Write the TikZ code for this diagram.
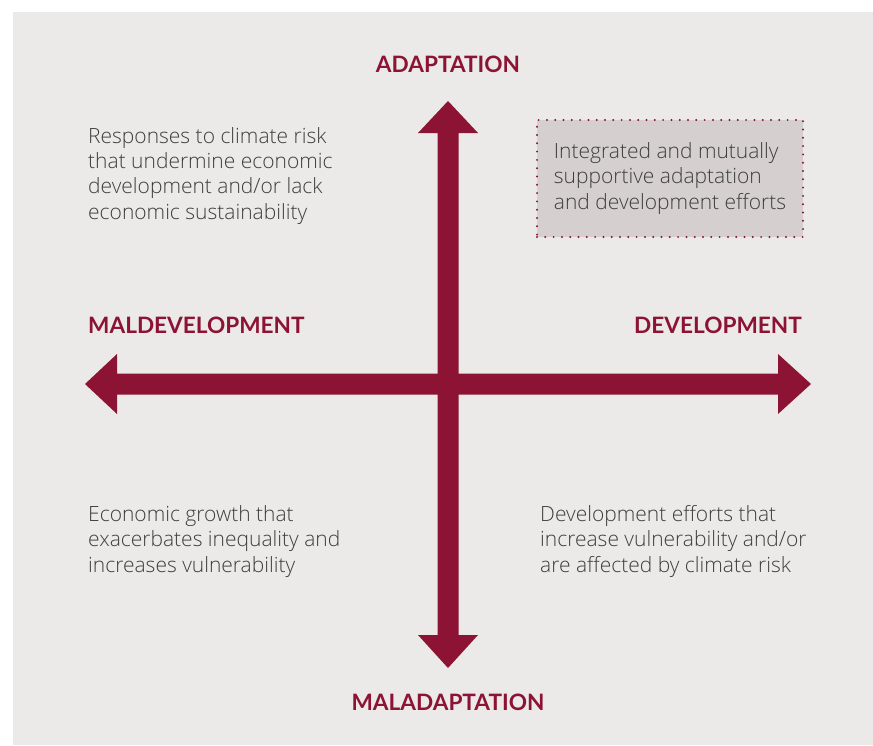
\documentclass[tikz,border=0pt]{standalone}
\usepackage{fontspec}
\IfFontExistsTF{Open Sans Light}{\newfontfamily\bodyfont{Open Sans Light}}{\newfontfamily\bodyfont{Open Sans}}
\newfontfamily\labelfont{Lato}[BoldFont=* Bold]
\definecolor{crimson}{RGB}{140,19,51}
\definecolor{bgcol}{RGB}{235,234,232}
\definecolor{boxfill}{RGB}{213,208,207}
\definecolor{bodytext}{RGB}{62,62,62}
\tikzset{
  axislabel/.style={inner sep=0pt, text=crimson, font=\labelfont\bfseries\fontsize{22.6}{27}\selectfont},
  bodytxt/.style={inner sep=0pt, align=left, text=bodytext, font=\bodyfont\fontsize{21}{25.3}\selectfont},
  axisarrow/.style={fill=crimson},
  dottedbox/.style={draw=crimson, fill=boxfill, line width=2.2pt, line cap=round,
    dash pattern=on 0pt off 8.3pt, minimum width=266pt, minimum height=117pt}
}
\begin{document}
\begin{tikzpicture}[x=1pt,y=-1pt]
\useasboundingbox (0,0) rectangle (873,745);
\fill[bgcol] (13,12) rectangle (873,745);
% arrow end points
\coordinate (top) at (448,101);
\coordinate (bottom) at (448,668);
\coordinate (left) at (85,384);
\coordinate (right) at (811,384);
% vertical arrow
\fill[axisarrow] (top) -- ++(30,32) -- ++(-19.5,0) -- ++(0,502) -- ++(19.5,0) -- (bottom)
  -- ++(-30,-33) -- ++(19.5,0) -- ++(0,-502) -- ++(-19.5,0) -- cycle;
% horizontal arrow
\fill[axisarrow] (left) -- ++(32,-30) -- ++(0,19.5) -- ++(661,0) -- ++(0,-19.5) -- (right)
  -- ++(-33,30) -- ++(0,-19.5) -- ++(-661,0) -- ++(0,19.5) -- cycle;
% axis labels
\node[axislabel, anchor=base] (adapt) at (448,72) {ADAPTATION};
\node[axislabel, anchor=base] (maladapt) at (448,710) {MALADAPTATION};
\node[axislabel, anchor=base west] (maldev) at (88,333) {MALDEVELOPMENT};
\node[axislabel, anchor=base east] (dev) at (802,333) {DEVELOPMENT};
% quadrant texts (anchored at the baseline of the last line)
\node[bodytxt, anchor=base west] (tl) at (88,219) {Responses to climate risk\\that undermine economic\\development and/or lack\\economic sustainability};
\node[dottedbox, bodytxt] (tr) at (670,178.5) {Integrated and mutually\\supportive adaptation\\and development efforts};
\node[bodytxt, anchor=base west] (bl) at (88,572) {Economic growth that\\exacerbates inequality and\\increases vulnerability};
\node[bodytxt, anchor=base west] (br) at (540,572) {Development efforts that\\increase vulnerability and/or\\are affected by climate risk};
\end{tikzpicture}
\end{document}
